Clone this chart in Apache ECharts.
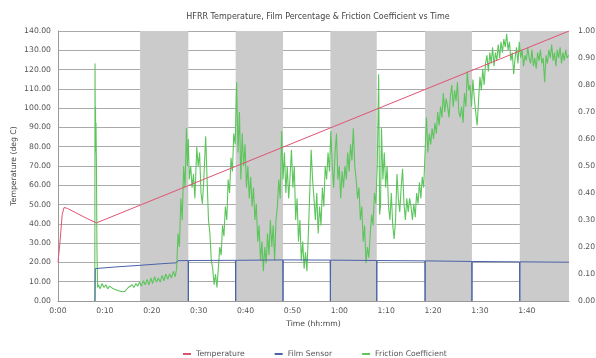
<!DOCTYPE html>
<html>
<head>
<meta charset="utf-8">
<script src="https://cdn.jsdelivr.net/npm/echarts@6/dist/echarts.min.js"></script>
<style>
  html, body { margin: 0; padding: 0; background: #fff; }
  #chart { width: 596px; height: 358px; }
</style>
</head>
<body>
<div id="chart"></div>
<script>
// time in minutes
var xTicks = [0, 10, 20, 30, 40, 50, 60, 70, 80, 90, 100];
var bandStarts = [17.5, 37.9, 58.1, 78.3, 98.5];
var bandEnds = [27.8, 48.0, 68.0, 88.3, 109];

// temperature (deg C)
var tempPoints = [[0, 20], [0.4, 30], [0.9, 45], [1.3, 48.5], [2, 48], [4, 45.5], [6, 43], [8.2, 40.5], [109, 140]];

// film sensor (%), drops to zero at each band edge
var filmPoints = [
  [7.9, 0], [7.95, 16.8], [12, 17.6], [17.5, 18.5], [22, 19.3], [25.2, 19.8], [25.6, 20.9],
  [27.75, 21], [27.8, 0], [27.85, 21],
  [37.85, 21.1], [37.9, 0], [37.95, 21.1],
  [47.95, 21.3], [48.0, 0], [48.05, 21.3],
  [58.05, 21.2], [58.1, 0], [58.15, 21.2],
  [67.95, 21], [68.0, 0], [68.05, 21],
  [78.25, 20.8], [78.3, 0], [78.35, 20.8],
  [88.25, 20.5], [88.3, 0], [88.35, 20.5],
  [98.45, 20.3], [98.5, 0], [98.55, 20.3],
  [109, 20.1]
];

// friction coefficient
var frictionPoints = [
  [7.85, 0], [7.9, 0.88], [7.95, 0.6], [8.0, 0.72], [8.05, 0.55], [8.1, 0.66], [8.2, 0.5], [8.3, 0.2], [8.45, 0.05],
  [8.6, 0.06], [9.0, 0.045], [9.4, 0.065], [9.8, 0.05], [10.2, 0.06], [10.6, 0.045], [11, 0.055], [11.4, 0.05],
  [11.8, 0.045], [12.2, 0.05], [12.6, 0.04], [13, 0.045], [13.4, 0.035], [13.8, 0.04], [14.2, 0.035], [14.6, 0.04],
  [15, 0.05], [15.4, 0.045], [15.8, 0.06], [16.2, 0.05], [16.6, 0.065], [17, 0.055], [17.4, 0.07], [17.8, 0.055],
  [18.2, 0.075], [18.6, 0.06], [19, 0.08], [19.4, 0.06], [19.8, 0.085], [20.2, 0.065], [20.6, 0.09], [21, 0.07],
  [21.4, 0.085], [21.8, 0.07], [22.2, 0.095], [22.6, 0.075], [23, 0.1], [23.4, 0.08], [23.8, 0.1], [24.2, 0.085],
  [24.6, 0.11], [25.0, 0.09],
  [25.3, 0.12], [25.6, 0.25], [25.9, 0.2], [26.2, 0.38], [26.5, 0.3], [26.8, 0.5], [27.1, 0.42], [27.4, 0.64],
  [27.6, 0.5], [27.8, 0.6], [28, 0.45], [28.3, 0.5], [28.6, 0.42], [28.9, 0.47], [29.2, 0.38], [29.6, 0.57],
  [29.9, 0.5], [30.2, 0.55], [30.5, 0.4], [30.8, 0.36], [31.1, 0.45], [31.5, 0.61], [31.8, 0.45], [32.1, 0.3],
  [32.4, 0.25], [32.7, 0.15], [33, 0.12], [33.3, 0.06], [33.6, 0.1], [33.9, 0.05], [34.2, 0.12], [34.5, 0.2],
  [34.8, 0.17], [35.1, 0.28], [35.4, 0.24], [35.7, 0.35], [36, 0.3], [36.3, 0.45], [36.6, 0.4], [36.9, 0.53],
  [37.2, 0.48], [37.5, 0.62], [37.8, 0.58], [38.1, 0.81], [38.4, 0.55], [38.7, 0.7], [39, 0.45], [39.3, 0.62],
  [39.6, 0.5], [39.9, 0.58], [40.2, 0.42], [40.5, 0.5], [40.8, 0.38], [41.1, 0.46], [41.4, 0.35], [41.7, 0.42],
  [42, 0.3], [42.3, 0.36], [42.6, 0.22], [42.9, 0.28], [43.2, 0.15], [43.5, 0.22], [43.8, 0.11], [44.1, 0.2],
  [44.4, 0.14], [44.7, 0.25], [45, 0.17], [45.3, 0.3], [45.6, 0.2], [45.9, 0.28], [46.2, 0.15], [46.5, 0.3],
  [46.8, 0.35], [47.1, 0.45], [47.4, 0.38], [47.7, 0.63], [48, 0.45], [48.3, 0.55], [48.6, 0.4], [48.9, 0.5],
  [49.2, 0.38], [49.5, 0.46], [49.8, 0.56], [50.1, 0.42], [50.4, 0.5], [50.7, 0.3], [51, 0.38], [51.3, 0.22],
  [51.6, 0.3], [51.9, 0.15], [52.2, 0.22], [52.5, 0.12], [52.8, 0.18], [53.1, 0.11], [53.4, 0.25], [53.7, 0.4],
  [54, 0.56], [54.3, 0.45], [54.6, 0.38], [54.9, 0.3], [55.2, 0.4], [55.5, 0.25], [55.8, 0.35], [56.1, 0.28],
  [56.4, 0.42], [56.7, 0.35], [57, 0.5], [57.3, 0.45], [57.6, 0.55], [57.9, 0.48], [58.2, 0.63], [58.5, 0.5],
  [58.8, 0.42], [59.1, 0.55], [59.4, 0.62], [59.7, 0.45], [60, 0.5], [60.3, 0.38], [60.6, 0.48], [60.9, 0.42],
  [61.2, 0.5], [61.5, 0.45], [61.8, 0.55], [62.1, 0.48], [62.4, 0.58], [62.7, 0.52], [63, 0.64], [63.3, 0.5],
  [63.6, 0.45], [63.9, 0.38], [64.2, 0.42], [64.5, 0.3], [64.8, 0.35], [65.1, 0.22], [65.4, 0.28], [65.7, 0.14],
  [66, 0.2], [66.3, 0.16], [66.6, 0.25], [66.9, 0.32], [67.2, 0.28], [67.5, 0.4], [67.8, 0.36], [68.1, 0.5],
  [68.4, 0.84], [68.6, 0.32], [68.8, 0.35], [69, 0.64], [69.3, 0.45], [69.6, 0.55], [69.9, 0.42], [70.2, 0.5],
  [70.5, 0.35], [70.8, 0.3], [71.1, 0.4], [71.4, 0.28], [71.7, 0.23], [72, 0.3], [72.3, 0.47], [72.6, 0.38],
  [72.9, 0.33], [73.2, 0.42], [73.5, 0.49], [73.8, 0.36], [74.1, 0.3], [74.4, 0.38], [74.7, 0.33], [75, 0.38],
  [75.3, 0.35], [75.6, 0.3], [75.9, 0.36], [76.2, 0.31], [76.5, 0.4], [76.8, 0.36], [77.1, 0.44], [77.4, 0.38],
  [77.7, 0.46], [78, 0.42], [78.3, 0.55], [78.6, 0.68], [78.9, 0.55], [79.2, 0.62], [79.5, 0.58], [79.8, 0.64],
  [80.1, 0.6], [80.4, 0.66], [80.7, 0.62], [81, 0.7], [81.3, 0.65], [81.6, 0.72], [81.9, 0.68], [82.2, 0.77],
  [82.5, 0.7], [82.8, 0.75], [83.1, 0.72], [83.4, 0.68], [83.7, 0.76], [84, 0.8], [84.3, 0.72], [84.6, 0.78],
  [84.9, 0.74], [85.2, 0.81], [85.5, 0.7], [85.8, 0.68], [86.1, 0.72], [86.4, 0.66], [86.7, 0.77], [87, 0.72],
  [87.3, 0.85], [87.6, 0.78], [87.9, 0.8], [88.2, 0.72], [88.5, 0.82], [88.8, 0.75], [89.1, 0.7], [89.4, 0.65],
  [89.7, 0.74], [90, 0.83], [90.3, 0.78], [90.6, 0.86], [90.9, 0.8], [91.2, 0.88], [91.5, 0.91], [91.8, 0.85],
  [92.1, 0.92], [92.4, 0.88], [92.7, 0.94], [93, 0.87], [93.3, 0.92], [93.6, 0.89], [93.9, 0.95], [94.2, 0.9],
  [94.5, 0.96], [94.8, 0.92], [95.1, 0.97], [95.4, 0.94], [95.7, 0.99], [96, 0.93], [96.3, 0.96], [96.6, 0.89],
  [96.9, 0.92], [97.2, 0.84], [97.5, 0.9], [97.8, 0.94], [98.1, 0.88], [98.4, 0.96], [98.7, 0.9], [99, 0.93],
  [99.3, 0.87], [99.6, 0.91], [99.9, 0.89], [100.2, 0.94], [100.5, 0.9], [100.8, 0.88], [101.1, 0.93], [101.4, 0.87],
  [101.7, 0.9], [102, 0.86], [102.3, 0.92], [102.6, 0.89], [102.9, 0.93], [103.2, 0.88], [103.5, 0.9], [103.8, 0.81],
  [104.1, 0.91], [104.4, 0.88], [104.7, 0.93], [105, 0.9], [105.3, 0.95], [105.6, 0.89], [105.9, 0.92], [106.2, 0.87],
  [106.5, 0.93], [106.8, 0.9], [107.1, 0.94], [107.4, 0.88], [107.7, 0.92], [108, 0.89], [108.3, 0.93], [108.6, 0.9],
  [108.9, 0.91]
];

var fontName = "DejaVu Sans";
var bands = bandStarts.map(function (s, i) {
  return [{ xAxis: s }, { xAxis: bandEnds[i] }];
});

function hhmm(v) {
  var h = Math.floor(v / 60);
  var m = Math.round(v - h * 60);
  return h + ":" + (m < 10 ? "0" + m : m);
}

var myChart = echarts.init(document.getElementById("chart"));
var option = {
  animation: false,
  textStyle: { fontFamily: fontName },
  title: {
    text: "HFRR Temperature, Film Percentage & Friction Coefficient vs Time",
    left: 313,
    top: 8,
    textAlign: "center",
    textStyle: { fontSize: 8, fontWeight: "normal", color: "#444", fontFamily: fontName }
  },
  legend: {
    left: 178,
    top: 345,
    itemGap: 30,
    itemWidth: 8,
    itemHeight: 2,
    icon: "rect",
    textStyle: { fontSize: 7.7, color: "#555", fontFamily: fontName },
    data: ["Temperature", "Film Sensor", "Friction Coefficient"]
  },
  grid: { left: 58, right: 27, top: 31, bottom: 57, outerBoundsMode: "none" },
  xAxis: {
    type: "value",
    min: 0,
    max: 109,
    interval: 10,
    name: "Time (hh:mm)",
    nameLocation: "middle",
    nameGap: 19,
    nameMoveOverlap: false,
    nameTextStyle: { fontSize: 7.7, color: "#444" },
    axisLine: { lineStyle: { color: "#999" } },
    axisTick: { show: false },
    splitLine: { show: false },
    axisLabel: {
      fontSize: 7.7,
      color: "#555",
      margin: 6,
      showMaxLabel: false,
      formatter: hhmm
    }
  },
  yAxis: [
    {
      type: "value",
      min: 0,
      max: 140,
      interval: 10,
      name: "Temperature (deg C)",
      nameLocation: "middle",
      nameGap: 40,
      nameMoveOverlap: false,
      nameTextStyle: { fontSize: 7.7, color: "#444" },
      axisLine: { show: true, lineStyle: { color: "#999" } },
      axisTick: { show: false },
      splitLine: { lineStyle: { color: "#aaaaaa", width: 1 } },
      axisLabel: { fontSize: 7.7, color: "#555", margin: 7, formatter: function (v) { return v.toFixed(2); } }
    },
    {
      type: "value",
      min: 0,
      max: 1,
      interval: 0.1,
      axisLine: { show: false },
      axisTick: { show: false },
      splitLine: { show: false },
      axisLabel: { fontSize: 7.7, color: "#555", margin: 9, formatter: function (v) { return v.toFixed(2); } }
    }
  ],
  series: [
    {
      name: "bands",
      type: "line",
      data: [],
      z: -1,
      silent: true,
      markArea: {
        silent: true,
        itemStyle: { color: "#cbcbcb" },
        data: bands
      }
    },
    {
      name: "Friction Coefficient",
      type: "line",
      yAxisIndex: 1,
      data: frictionPoints,
      showSymbol: false,
      color: "#5cc55c",
      lineStyle: { width: 1.1, color: "#5cc55c" }
    },
    {
      name: "Film Sensor",
      type: "line",
      data: filmPoints,
      showSymbol: false,
      color: "#4a62a8",
      lineStyle: { width: 1, color: "#4a62a8" }
    },
    {
      name: "Temperature",
      type: "line",
      data: tempPoints,
      showSymbol: false,
      color: "#df5472",
      lineStyle: { width: 1, color: "#df5472" }
    }
  ]
};
myChart.setOption(option);
</script>
</body>
</html>
